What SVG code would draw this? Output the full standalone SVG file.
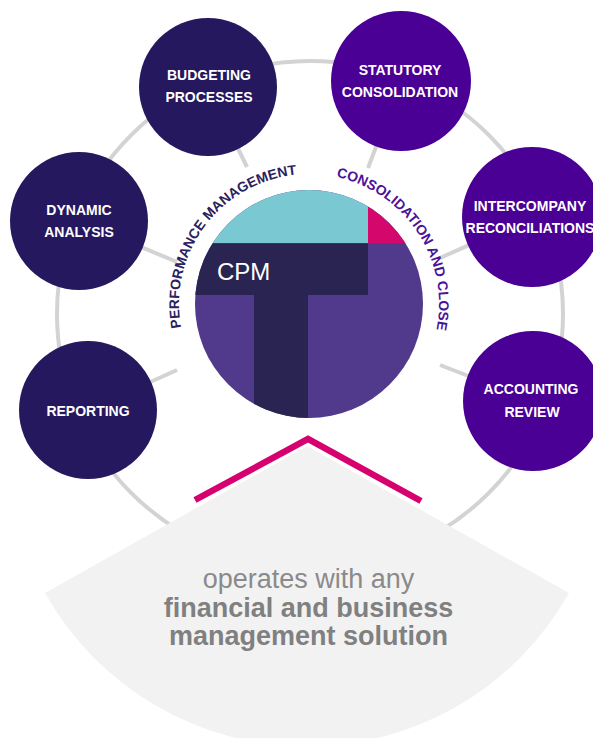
<svg xmlns="http://www.w3.org/2000/svg" xmlns:xlink="http://www.w3.org/1999/xlink" width="593" height="738" viewBox="0 0 593 738">
  <style>
    .ring { fill: none; stroke: #d3d3d3; stroke-width: 4; }
    .spoke { stroke: #d3d3d3; stroke-width: 4; fill: none; }
    .nav { fill: #25185e; }
    .pur { fill: #4a0094; }
    .lbl { font-family: "Liberation Sans", Arial, sans-serif; font-weight: bold; font-size: 14px; fill: #ffffff; text-anchor: middle; }
    .arc { font-family: "Liberation Sans", Arial, sans-serif; font-weight: bold; font-size: 14px; text-anchor: middle; }
    .bot { font-family: "Liberation Sans", Arial, sans-serif; font-size: 27px; text-anchor: middle; }
  </style>
  <defs>
    <clipPath id="cc">
      <circle cx="309" cy="304" r="114"/>
    </clipPath>
    <path id="pmArc" d="M 182.3 333.2 A 130 130 0 0 1 302.2 174.2"/>
    <path id="ccArc" d="M 324.2 174.9 A 130 130 0 0 1 433.5 341.4"/>
  </defs>
  <rect x="0" y="0" width="593" height="738" fill="#ffffff"/>

  <g id="connectors">
    <circle class="ring" cx="310" cy="314" r="253"/>
    <line class="spoke" x1="208" y1="87" x2="247" y2="167"/>
    <line class="spoke" x1="401" y1="81" x2="368" y2="168"/>
    <line class="spoke" x1="79" y1="221" x2="177" y2="262"/>
    <line class="spoke" x1="532" y1="217" x2="440" y2="258"/>
    <line class="spoke" x1="88" y1="410" x2="177" y2="370"/>
    <line class="spoke" x1="533" y1="401" x2="440" y2="365"/>
  </g>

  <g id="base">
    <path d="M 307 446 L 45 593 A 300.4 300.4 0 0 0 569 593 Z" fill="#f2f2f2"/>
    <polyline points="195,500 308,439 421,501" fill="none" stroke="#d6006e" stroke-width="6.5" stroke-linejoin="miter"/>
    <text class="bot" x="308.5" y="588" fill="#8a8a8a">operates with any</text>
    <text class="bot" x="308.5" y="617" fill="#808080" font-weight="bold">financial and business</text>
    <text class="bot" x="308.5" y="645" fill="#808080" font-weight="bold">management solution</text>
  </g>

  <g id="cpm">
    <g clip-path="url(#cc)">
      <rect x="190" y="185" width="240" height="240" fill="#51398b"/>
      <rect x="190" y="185" width="178" height="58.3" fill="#7ac8d1"/>
      <rect x="368" y="185" width="62" height="58.3" fill="#d4086c"/>
      <rect x="190" y="243.3" width="178" height="51.7" fill="#2a2452"/>
      <rect x="254" y="294" width="54" height="131" fill="#2a2452"/>
    </g>
    <text x="217" y="280" font-family="Liberation Sans, Arial, sans-serif" font-size="24" fill="#ffffff">CPM</text>
  </g>

  <g id="label-performance">
    <text class="arc" fill="#2a2160"><textPath xlink:href="#pmArc" href="#pmArc" startOffset="50%">PERFORMANCE MANAGEMENT</textPath></text>
  </g>
  <g id="label-consolidation">
    <text class="arc" fill="#4a139a"><textPath xlink:href="#ccArc" href="#ccArc" startOffset="50%">CONSOLIDATION AND CLOSE</textPath></text>
  </g>

  <g id="node-budgeting">
    <circle class="nav" cx="208" cy="87" r="69"/>
    <text class="lbl" x="209" y="80">BUDGETING</text>
    <text class="lbl" x="209" y="102">PROCESSES</text>
  </g>
  <g id="node-statutory">
    <circle class="pur" cx="401" cy="81" r="70"/>
    <text class="lbl" x="400" y="75">STATUTORY</text>
    <text class="lbl" x="400" y="97">CONSOLIDATION</text>
  </g>
  <g id="node-dynamic">
    <circle class="nav" cx="79" cy="221" r="69"/>
    <text class="lbl" x="79" y="215">DYNAMIC</text>
    <text class="lbl" x="79" y="237">ANALYSIS</text>
  </g>
  <g id="node-intercompany">
    <circle class="pur" cx="532" cy="217" r="70"/>
    <text class="lbl" x="530" y="211">INTERCOMPANY</text>
    <text class="lbl" x="530" y="233">RECONCILIATIONS</text>
  </g>
  <g id="node-reporting">
    <circle class="nav" cx="88" cy="410" r="69"/>
    <text class="lbl" x="88" y="416">REPORTING</text>
  </g>
  <g id="node-accounting">
    <circle class="pur" cx="533" cy="401" r="70"/>
    <text class="lbl" x="531" y="394">ACCOUNTING</text>
    <text class="lbl" x="532" y="417">REVIEW</text>
  </g>
</svg>
